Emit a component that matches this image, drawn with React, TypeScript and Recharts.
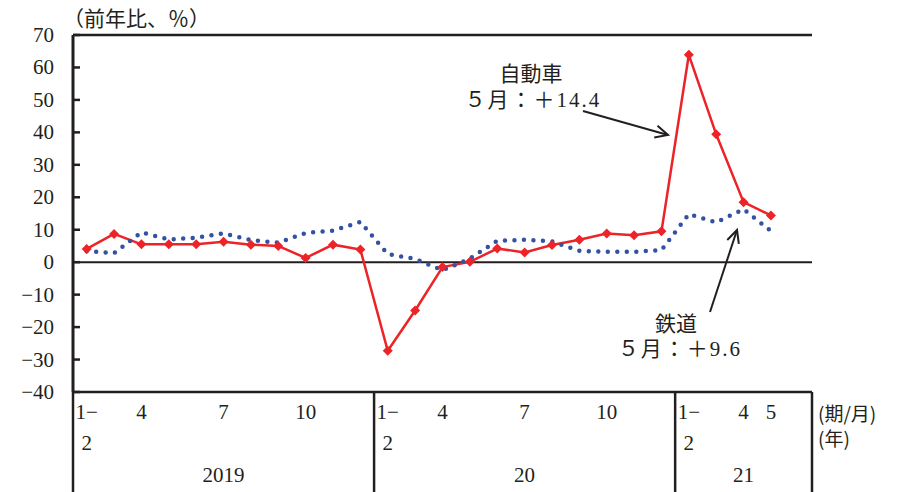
import React from 'react';
import { LineChart, Line, XAxis, YAxis, ReferenceLine } from 'recharts';

// categories: 2019 (1-2..12), 2020 (1-2..12), 2021 (1-2..5) + one empty slot
const years = ['2019', '2020', '2021'];
const yearLabels = ['2019', '20', '21'];
const yearSlots = [11, 11, 5];
const months = [
  '1-2', '3', '4', '5', '6', '7', '8', '9', '10', '11', '12',
  '1-2', '3', '4', '5', '6', '7', '8', '9', '10', '11', '12',
  '1-2', '3', '4', '5', '',
];
const monthTicks = [
  '1-2', '', '4', '', '', '7', '', '', '10', '', '',
  '1-2', '', '4', '', '', '7', '', '', '10', '', '',
  '1-2', '', '4', '5', '',
];
// 自動車
const carValues = [
  4.1, 8.7, 5.5, 5.5, 5.5, 6.3, 5.4, 5.0, 1.3, 5.4, 3.9,
  -27.3, -14.9, -1.5, 0.1, 4.2, 3.0, 5.3, 6.9, 8.8, 8.3, 9.5,
  63.9, 39.4, 18.5, 14.4, null,
];
// 鉄道
const railValues = [
  3.4, 2.8, 9.2, 7.0, 7.5, 8.9, 6.8, 6.0, 9.0, 9.7, 12.4,
  2.5, 1.0, -2.5, 1.1, 6.6, 6.9, 6.4, 3.5, 3.2, 3.2, 3.7,
  14.8, 12.3, 16.3, 9.6, null,
];
const yTicks = [-40, -30, -20, -10, 0, 10, 20, 30, 40, 50, 60, 70];

const yearOf = (i: number) => (i < 11 ? 0 : i < 22 ? 1 : 2);
const data = months.map((m, i) => ({
  key: `${years[yearOf(i)]}-${i}`,
  month: m,
  car: carValues[i],
  rail: railValues[i],
}));

const W = 913;
const H = 492;
const PLOT_W = 739;
const INK = '#231f20';
const RED = '#ec2327';
const BLUE = '#3452a4';
const NUM_FONT = "'Liberation Serif', 'Noto Sans CJK JP', serif";
const CJK_FONT = "'Noto Sans CJK JP', 'Liberation Serif', serif";

const fmt = (v: number) => (v < 0 ? `−${Math.abs(v)}` : `${v}`);

function YTick(props: any) {
  const { x, y, payload } = props;
  return (
    <g>
      <line x1={x} x2={x + 7} y1={y} y2={y} stroke={INK} strokeWidth={2.5} />
      <text x={x - 19} y={y} textAnchor="end" dominantBaseline="central"
        fontFamily={NUM_FONT} fontSize={21} fill={INK}>
        {fmt(payload.value)}
      </text>
    </g>
  );
}

function XTick(props: any) {
  const { x, y, payload } = props;
  const idx = payload.index ?? props.index;
  const half = PLOT_W / months.length / 2;
  // band centre, whatever offset the axis used for this tick
  const cx = 73 + (2 * idx + 1) * half;
  const label = monthTicks[idx];
  const starts = [0, 11, 22];
  const yi = starts.indexOf(idx);
  const out: React.ReactNode[] = [];
  if (yi >= 0) {
    const left = cx - half;
    out.push(<line key="d" x1={left} x2={left} y1={y} y2={H} stroke={INK} strokeWidth={2.5} />);
    out.push(
      <text key="y" x={left + yearSlots[yi] * half} y={475} textAnchor="middle" dominantBaseline="central"
        fontFamily={NUM_FONT} fontSize={21} fill={INK}>{yearLabels[yi]}</text>
    );
  }
  if (idx === months.length - 1) {
    out.push(<line key="r" x1={cx + half} x2={cx + half} y1={y} y2={H} stroke={INK} strokeWidth={2.5} />);
  }
  if (label === '1-2') {
    out.push(
      <text key="a" x={cx} y={412} textAnchor="middle" dominantBaseline="central"
        fontFamily={NUM_FONT} fontSize={21} fill={INK}>1−</text>
    );
    out.push(
      <text key="b" x={cx} y={443} textAnchor="middle" dominantBaseline="central"
        fontFamily={NUM_FONT} fontSize={21} fill={INK}>2</text>
    );
  } else if (label) {
    out.push(
      <text key="m" x={cx} y={412} textAnchor="middle" dominantBaseline="central"
        fontFamily={NUM_FONT} fontSize={21} fill={INK}>{label}</text>
    );
  }
  return <g data-x={x}>{out}</g>;
}

function Diamond(props: any) {
  const { cx, cy, value } = props;
  if (value == null || cx == null) return null;
  const r = 5;
  return (
    <polygon points={`${cx},${cy - r} ${cx + r},${cy} ${cx},${cy + r} ${cx - r},${cy}`} fill={RED} />
  );
}

function Arrow({ x1, y1, x2, y2 }: { x1: number; y1: number; x2: number; y2: number }) {
  const a = Math.atan2(y2 - y1, x2 - x1);
  const len = 14;
  const sp = 0.45;
  const p1 = [x2 - len * Math.cos(a - sp), y2 - len * Math.sin(a - sp)];
  const p2 = [x2 - len * Math.cos(a + sp), y2 - len * Math.sin(a + sp)];
  return (
    <g stroke={INK} strokeWidth={2} fill="none">
      <line x1={x1} y1={y1} x2={x2} y2={y2} />
      <polyline points={`${p1[0]},${p1[1]} ${x2},${y2} ${p2[0]},${p2[1]}`} />
    </g>
  );
}

export default function App() {
  return (
    <div style={{ position: 'absolute', left: 0, top: 0, width: W, height: H, background: '#fff' }}>
      <LineChart width={W} height={H} data={data} margin={{ top: 35, right: 101, left: 0, bottom: 0 }}>
        <XAxis dataKey="key" type="category" scale="band" interval={0} height={100} tickSize={0} tickMargin={0}
          tickLine={false} axisLine={{ stroke: INK, strokeWidth: 2.5 }} tick={<XTick />} />
        <YAxis type="number" domain={[-40, 70]} ticks={yTicks} width={73} interval={0}
          tickSize={0} tickMargin={0} tickLine={false}
          axisLine={{ stroke: INK, strokeWidth: 3 }} tick={<YTick />} />
        <YAxis yAxisId="r" orientation="right" type="number" domain={[-40, 70]} width={0}
          tick={false} tickLine={false} axisLine={{ stroke: INK, strokeWidth: 2.5 }} />
        <ReferenceLine y={70} stroke={INK} strokeWidth={2.5} />
        <ReferenceLine y={0} stroke={INK} strokeWidth={2} />
        <Line dataKey="car" type="linear" stroke={RED} strokeWidth={2.5} dot={<Diamond />}
          activeDot={false} isAnimationActive={false} connectNulls={false} />
        <Line dataKey="rail" type="linear" stroke={BLUE} strokeWidth={4.5} strokeDasharray="0 9.5"
          strokeLinecap="round" dot={false} activeDot={false} isAnimationActive={false} />
      </LineChart>
      <svg width={W} height={H} style={{ position: 'absolute', left: 0, top: 0, pointerEvents: 'none' }}>
        <text x={63} y={17} dominantBaseline="central" fontFamily={CJK_FONT} fontSize={21} fill={INK}>
          （前年比、％）
        </text>
        <text x={531} y={72} textAnchor="middle" dominantBaseline="central" fontFamily={CJK_FONT} fontSize={21} fill={INK}>
          自動車
        </text>
        <text x={533} y={100} textAnchor="middle" dominantBaseline="central" fontFamily={NUM_FONT} fontSize={21}
          letterSpacing={2} fill={INK}>
          ５月：＋14.4
        </text>
        <text x={676} y={322} textAnchor="middle" dominantBaseline="central" fontFamily={CJK_FONT} fontSize={21} fill={INK}>
          鉄道
        </text>
        <text x={680} y={349} textAnchor="middle" dominantBaseline="central" fontFamily={NUM_FONT} fontSize={21}
          letterSpacing={2} fill={INK}>
          ５月：＋9.6
        </text>
        <text x={818} y={412} dominantBaseline="central" fontFamily={CJK_FONT} fontSize={19} fill={INK}>
          (期/月)
        </text>
        <text x={818} y={437} dominantBaseline="central" fontFamily={CJK_FONT} fontSize={19} fill={INK}>
          (年)
        </text>
        <Arrow x1={583} y1={111} x2={668} y2={135} />
        <Arrow x1={710} y1={312} x2={737} y2={230} />
      </svg>
    </div>
  );
}
